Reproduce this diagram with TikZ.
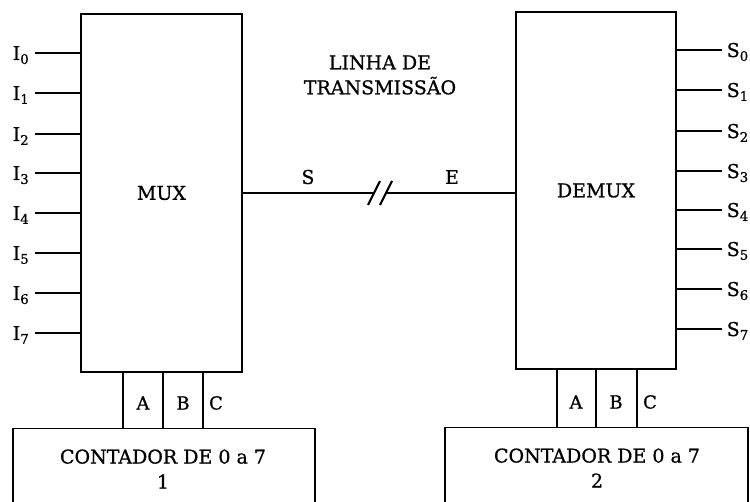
\documentclass[tikz,border=0pt]{standalone}
\usepackage{fontspec}
\setmainfont{DejaVu Serif}[FakeBold=0.8]
\usepackage{tikz}

\begin{document}
\begin{tikzpicture}[x=1pt, y=-1pt, line width=1.5pt, font=\fontsize{19}{25}\selectfont,
	every node/.style={inner sep=0pt},
	block/.style={draw, rectangle, inner sep=0pt},
	sel/.style={font=\fontsize{18}{22}\selectfont}]
		\useasboundingbox (0, 0) rectangle (750, 502);
		\clip (0, 0) rectangle (750, 502);

		% multiplexador
		\node[block, minimum width=161pt, minimum height=358pt] (mux) at (161.5, 193) {MUX};
		\node[anchor=base west] (l0) at (12, 60) {I\textsubscript{0}};
		\node[anchor=base west] (l1) at (12, 100) {I\textsubscript{1}};
		\node[anchor=base west] (l2) at (12, 141) {I\textsubscript{2}};
		\node[anchor=base west] (l3) at (12, 180) {I\textsubscript{3}};
		\node[anchor=base west] (l4) at (12, 220) {I\textsubscript{4}};
		\node[anchor=base west] (l5) at (12, 260) {I\textsubscript{5}};
		\node[anchor=base west] (l6) at (12, 300) {I\textsubscript{6}};
		\node[anchor=base west] (l7) at (12, 340) {I\textsubscript{7}};
		\coordinate (i0) at (35, 53);
		\coordinate (i1) at (35, 93);
		\coordinate (i2) at (35, 134);
		\coordinate (i3) at (35, 173);
		\coordinate (i4) at (35, 213);
		\coordinate (i5) at (35, 253);
		\coordinate (i6) at (35, 293);
		\coordinate (i7) at (35, 333);
		\draw (i0) -- (i0 -| mux.west)
			(i1) -- (i1 -| mux.west)
			(i2) -- (i2 -| mux.west)
			(i3) -- (i3 -| mux.west)
			(i4) -- (i4 -| mux.west)
			(i5) -- (i5 -| mux.west)
			(i6) -- (i6 -| mux.west)
			(i7) -- (i7 -| mux.west);

		% demultiplexador
		\node[block, minimum width=160pt, minimum height=357pt] (demux) at (596, 190.5) {DEMUX};
		\node[anchor=base west] (s0) at (726, 57) {S\textsubscript{0}};
		\node[anchor=base west] (s1) at (726, 97) {S\textsubscript{1}};
		\node[anchor=base west] (s2) at (726, 138) {S\textsubscript{2}};
		\node[anchor=base west] (s3) at (726, 178) {S\textsubscript{3}};
		\node[anchor=base west] (s4) at (726, 217) {S\textsubscript{4}};
		\node[anchor=base west] (s5) at (726, 256) {S\textsubscript{5}};
		\node[anchor=base west] (s6) at (726, 296) {S\textsubscript{6}};
		\node[anchor=base west] (s7) at (726, 336) {S\textsubscript{7}};
		\coordinate (o0) at (722, 50);
		\coordinate (o1) at (722, 90);
		\coordinate (o2) at (722, 131);
		\coordinate (o3) at (722, 171);
		\coordinate (o4) at (722, 210);
		\coordinate (o5) at (722, 249);
		\coordinate (o6) at (722, 289);
		\coordinate (o7) at (722, 329);
		\draw (o0) -- (o0 -| demux.east)
			(o1) -- (o1 -| demux.east)
			(o2) -- (o2 -| demux.east)
			(o3) -- (o3 -| demux.east)
			(o4) -- (o4 -| demux.east)
			(o5) -- (o5 -| demux.east)
			(o6) -- (o6 -| demux.east)
			(o7) -- (o7 -| demux.east);

		% linha de transmissao
		\node[align=center] (linha) at (380, 75) {LINHA DE\\TRANSMISSÃO};
		\node (sa) at (308, 177) {S};
		\node (en) at (452, 177) {E};
		\coordinate (cut1) at (374, 193);
		\coordinate (cut2) at (386, 193);
		\draw (mux.east |- cut1) -- (cut1)
			(cut2) -- (demux.west |- cut2);
		\draw[line width=2.2pt] ([shift={(-6, 12)}]cut1) -- ([shift={(6, -12)}]cut1)
			([shift={(-6, 12)}]cut2) -- ([shift={(6, -12)}]cut2);

		% contadores
		\node[block, minimum width=302pt, minimum height=120pt, anchor=north west] (cnt1) at (12, 428) {};
		\node[align=center] (t1) at (163, 469) {CONTADOR DE 0 a 7\\1};
		\coordinate (ma) at (123, 400);
		\coordinate (mb) at (163, 400);
		\coordinate (mc) at (203, 400);
		\draw (ma |- mux.south) -- (ma |- cnt1.north)
			(mb |- mux.south) -- (mb |- cnt1.north)
			(mc |- mux.south) -- (mc |- cnt1.north);
		\node[sel] (xa) at (143, 403) {A};
		\node[sel] (xb) at (183, 403) {B};
		\node[sel] (xc) at (216, 403) {C};

		\node[block, minimum width=303pt, minimum height=120pt, anchor=north west] (cnt2) at (444, 427) {};
		\node[align=center] (t2) at (597, 468) {CONTADOR DE 0 a 7\\2};
		\coordinate (da) at (557, 400);
		\coordinate (db) at (596, 400);
		\coordinate (dc) at (637, 400);
		\draw (da |- demux.south) -- (da |- cnt2.north)
			(db |- demux.south) -- (db |- cnt2.north)
			(dc |- demux.south) -- (dc |- cnt2.north);
		\node[sel] (ya) at (576, 402) {A};
		\node[sel] (yb) at (616, 402) {B};
		\node[sel] (yc) at (650, 402) {C};
	\end{tikzpicture}
\end{document}
